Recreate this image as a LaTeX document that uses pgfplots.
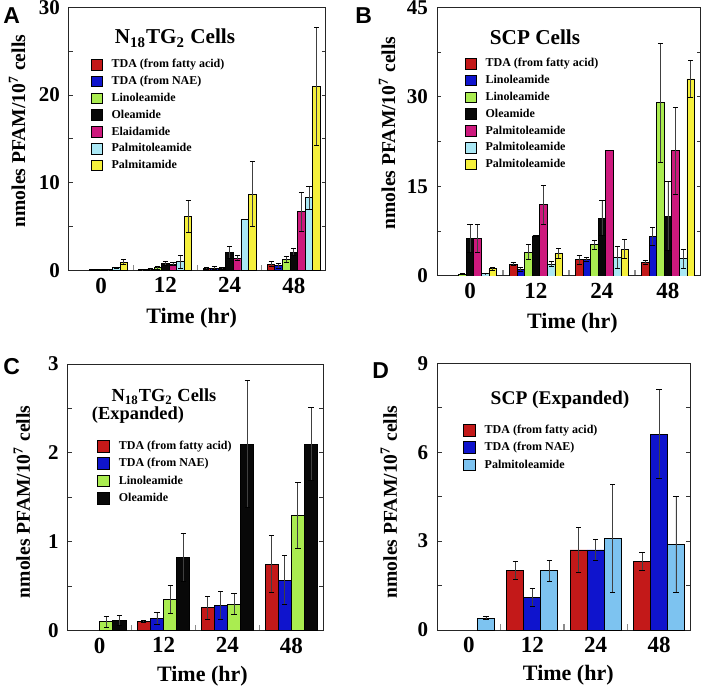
\documentclass[border=0pt]{standalone}
\usepackage{pgfplots}
\pgfplotsset{compat=1.18}
\usepackage{fontspec}
\setmainfont{Liberation Serif}
\newfontfamily\letterfont{Liberation Sans}
\definecolor{cRed}{RGB}{195,25,25}
\definecolor{cBlue}{RGB}{15,20,205}
\definecolor{cGreen}{RGB}{170,236,80}
\definecolor{cBlack}{RGB}{8,8,8}
\definecolor{cMag}{RGB}{205,25,125}
\definecolor{cCyan}{RGB}{170,232,245}
\definecolor{cYel}{RGB}{245,240,60}
\definecolor{cLB}{RGB}{125,195,240}
\pgfplotsset{
  panel/.style={
    scale only axis, anchor=south west,
    xmin=-0.5, xmax=3.5, ymin=0,
    ybar,
    xtick={0,1,2,3}, xticklabels={0,12,24,48},
    minor xtick={0.5,1.5,2.5},
    xtick pos=left,
    major x tick style={draw=none},
    minor x tick style={black!45, line width=0.6pt},
    minor tick length=3pt,
    major tick length=2.2pt,
    tick align=inside,
    y tick style={black!80, line width=0.5pt},
    axis line style={black!85, line width=0.5pt},
    xticklabel style={font=\fontsize{11.5}{13}\selectfont\bfseries},
    yticklabel style={font=\fontsize{10.5}{12}\selectfont\bfseries, xshift=-1pt},
    xlabel={Time (hr)}, ylabel={nmoles PFAM/10\textsuperscript{7} cells},
    xlabel style={font=\fontsize{11}{13}\selectfont\bfseries},
    ylabel style={font=\fontsize{9.8}{11}\selectfont\bfseries},
    error bars/y dir=both, error bars/y explicit,
    error bars/error bar style={black!75, line width=0.45pt},
    error bars/error mark options={rotate=90, black, mark size=1.3pt, line width=0.5pt},
    every axis plot/.append style={draw=black, line width=0.45pt},
    legend style={draw=none, fill=none, font=\fontsize{6}{7}\selectfont\bfseries,
      inner sep=0pt, row sep=2.6pt, column sep=4.3pt,
      nodes={inner sep=0pt, text height=4.3pt, text depth=1.2pt}, anchor=north west},
    legend cell align=left,
  },
  bxS/.style={legend image code/.code={\draw[##1,draw=black,line width=0.5pt] (0pt,-2.65pt) rectangle (5.3pt,2.65pt);}},
  bxL/.style={legend image code/.code={\draw[##1,draw=black,line width=0.5pt] (0pt,-2.9pt) rectangle (5.9pt,2.9pt);}},
}
\begin{document}
\begin{tikzpicture}
\path[use as bounding box] (0,0) rectangle (351.5pt,343.5pt);
% ---------------- Panel A
\begin{axis}[panel, at={(34.5pt,208.15pt)}, width=128.5pt, height=131.7pt, ymax=30,
  ytick={0,5,...,30}, yticklabels={0,,10,,20,,30},
  bar width=0.118,
  xlabel style={at={(axis description cs:0.477,0)}, anchor=center, yshift=-24pt},
  ylabel style={at={(axis description cs:-0.202,0.53)}, anchor=center},
  legend style={at={(axis description cs:0.0856,0.805)}}]
\addplot[fill=cRed, bar shift=-0.354, bxS] coordinates {(1,0.10) +- (0,0.02) (2,0.26) +- (0,0.12) (3,0.75) +- (0,0.31)};
\addlegendentry{TDA (from fatty acid)}
\addplot[fill=cBlue, bar shift=-0.236, bxS] coordinates {(1,0.14) +- (0,0.07) (2,0.28) +- (0,0.16) (3,0.57) +- (0,0.28)};
\addlegendentry{TDA (from NAE)}
\addplot[fill=cGreen, bar shift=-0.118, bxS] coordinates {(0,0.10) +- (0,0.06) (1,0.35) +- (0,0.16) (2,0.30) +- (0,0.12) (3,1.30) +- (0,0.37)};
\addlegendentry{Linoleamide}
\addplot[fill=cBlack, bar shift=0, bxS] coordinates {(0,0.12) +- (0,0.05) (1,0.82) +- (0,0.27) (2,2.1) +- (0,0.71) (3,2.1) +- (0,0.41)};
\addlegendentry{Oleamide}
\addplot[fill=cMag, bar shift=0.118, bxS] coordinates {(0,0.12) +- (0,0.03) (1,0.76) +- (0,0.2) (2,1.41) +- (0,0.3) (3,6.7) +- (0,2.2)};
\addlegendentry{Elaidamide}
\addplot[fill=cCyan, bar shift=0.236, bxS] coordinates {(0,0.35) +- (0,0.06) (1,1.03) +- (0,0.75) (2,5.85) +- (0,0) (3,8.3) +- (0,1.3)};
\addlegendentry{Palmitoleamide}
\addplot[fill=cYel, bar shift=0.354, bxS] coordinates {(0,0.95) +- (0,0.3) (1,6.15) +- (0,1.85) (2,8.7) +- (0,3.7) (3,21.0) +- (0,6.7)};
\addlegendentry{Palmitamide}
\end{axis}
% ---------------- Panel B
\begin{axis}[panel, at={(218.5pt,205.5pt)}, width=132pt, height=134.35pt, ymax=45,
  ytick={0,7.5,...,45}, yticklabels={0,,15,,30,,45},
  bar width=0.115,
  xlabel style={at={(axis description cs:0.513,0)}, anchor=center, yshift=-23.7pt},
  ylabel style={at={(axis description cs:-0.189,0.532)}, anchor=center},
  legend style={at={(axis description cs:0.106,0.813)}}]
\addplot[fill=cRed, bar shift=-0.345, bxS] coordinates {(1,2.0) +- (0,0.3) (2,2.7) +- (0,0.8) (3,2.3) +- (0,0.3)};
\addlegendentry{TDA (from fatty acid)}
\addplot[fill=cBlue, bar shift=-0.23, bxS] coordinates {(1,1.1) +- (0,0.3) (2,2.7) +- (0,0.35) (3,6.6) +- (0,1.5)};
\addlegendentry{Linoleamide}
\addplot[fill=cGreen, bar shift=-0.115, bxS] coordinates {(0,0.3) +- (0,0.05) (1,4.0) +- (0,1.3) (2,5.2) +- (0,0.7) (3,29.0) +- (0,10.0)};
\addlegendentry{Linoleamide}
\addplot[fill=cBlack, bar shift=0, bxS] coordinates {(0,6.3) +- (0,2.4) (1,6.7) +- (0,0) (2,9.7) +- (0,3.0) (3,10.0) +- (0,5.8)};
\addlegendentry{Oleamide}
\addplot[fill=cMag, bar shift=0.115, bxS] coordinates {(0,6.3) +- (0,2.4) (1,11.9) +- (0,3.2) (2,21.0) +- (0,0) (3,21.0) +- (0,7.3)};
\addlegendentry{Palmitoleamide}
\addplot[fill=cCyan, bar shift=0.23, bxS] coordinates {(0,0.4) +- (0,0.05) (1,2.0) +- (0,0.35) (2,3.1) +- (0,1.8) (3,2.9) +- (0,1.6)};
\addlegendentry{Palmitoleamide}
\addplot[fill=cYel, bar shift=0.345, bxS] coordinates {(0,1.2) +- (0,0.25) (1,3.8) +- (0,0.8) (2,4.5) +- (0,1.6) (3,33.0) +- (0,3.1)};
\addlegendentry{Palmitoleamide}
\end{axis}
% ---------------- Panel C
\begin{axis}[panel, at={(33.85pt,28.15pt)}, width=127.8pt, height=133.35pt, ymax=3,
  ytick={0,0.5,...,3}, yticklabels={0,,1,,2,,3},
  bar width=0.206,
  xlabel style={at={(axis description cs:0.527,0)}, anchor=center, yshift=-22.7pt},
  ylabel style={at={(axis description cs:-0.179,0.483)}, anchor=center},
  legend style={at={(axis description cs:0.115,0.7165)}, row sep=2.4pt}]
\addplot[fill=cRed, bar shift=-0.309, bxL] coordinates {(1,0.10) +- (0,0.01) (2,0.26) +- (0,0.13) (3,0.75) +- (0,0.32)};
\addlegendentry{TDA (from fatty acid)}
\addplot[fill=cBlue, bar shift=-0.103, bxL] coordinates {(1,0.14) +- (0,0.07) (2,0.285) +- (0,0.16) (3,0.57) +- (0,0.28)};
\addlegendentry{TDA (from NAE)}
\addplot[fill=cGreen, bar shift=0.103, bxL] coordinates {(0,0.10) +- (0,0.06) (1,0.35) +- (0,0.16) (2,0.30) +- (0,0.12) (3,1.30) +- (0,0.37)};
\addlegendentry{Linoleamide}
\addplot[fill=cBlack, bar shift=0.309, bxL] coordinates {(0,0.116) +- (0,0.055) (1,0.82) +- (0,0.27) (2,2.1) +- (0,0.71) (3,2.1) +- (0,0.41)};
\addlegendentry{Oleamide}
\end{axis}
% ---------------- Panel D
\begin{axis}[panel, at={(218.65pt,28.5pt)}, width=126.7pt, height=133.35pt, ymax=9,
  ytick={0,1.5,...,9}, yticklabels={0,,3,,6,,9},
  bar width=0.268,
  xlabel style={at={(axis description cs:0.517,0)}, anchor=center, yshift=-22.7pt},
  ylabel style={at={(axis description cs:-0.191,0.48)}, anchor=center},
  legend style={at={(axis description cs:0.101,0.774)}, row sep=2.4pt}]
\addplot[fill=cRed, bar shift=-0.268, bxL] coordinates {(1,2.0) +- (0,0.3) (2,2.7) +- (0,0.76) (3,2.3) +- (0,0.3)};
\addlegendentry{TDA (from fatty acid)}
\addplot[fill=cBlue, bar shift=0, bxL] coordinates {(1,1.09) +- (0,0.3) (2,2.7) +- (0,0.36) (3,6.6) +- (0,1.5)};
\addlegendentry{TDA (from NAE)}
\addplot[fill=cLB, bar shift=0.268, bxL] coordinates {(0,0.4) +- (0,0.06) (1,2.0) +- (0,0.35) (2,3.1) +- (0,1.82) (3,2.9) +- (0,1.62)};
\addlegendentry{Palmitoleamide}
\end{axis}
% ---------------- letters and titles
\begin{scope}[every node/.style={inner sep=0pt}]
\node[anchor=north west, font=\letterfont\fontsize{11.5}{13}\selectfont\bfseries] at (1.5pt,340pt) {A};
\node[anchor=north west, font=\letterfont\fontsize{11.5}{13}\selectfont\bfseries] at (177.5pt,340pt) {B};
\node[anchor=north west, font=\letterfont\fontsize{11.5}{13}\selectfont\bfseries] at (1.5pt,164.5pt) {C};
\node[anchor=north west, font=\letterfont\fontsize{11.5}{13}\selectfont\bfseries] at (186pt,162.5pt) {D};
\node[anchor=base, font=\fontsize{10.6}{12}\selectfont\bfseries] at (87.5pt,321.5pt) {N\textsubscript{18}TG\textsubscript{2} Cells};
\node[anchor=base, font=\fontsize{10.6}{12}\selectfont\bfseries] at (267.5pt,321pt) {SCP Cells};
\node[anchor=base, font=\fontsize{9.2}{11}\selectfont\bfseries] at (82pt,142.65pt) {N\textsubscript{18}TG\textsubscript{2} Cells};
\node[anchor=base, font=\fontsize{9.2}{11}\selectfont\bfseries] at (69pt,133.5pt) {(Expanded)};
\node[anchor=base, font=\fontsize{9.7}{11}\selectfont\bfseries] at (280pt,141pt) {SCP (Expanded)};
\end{scope}
\end{tikzpicture}
\end{document}
